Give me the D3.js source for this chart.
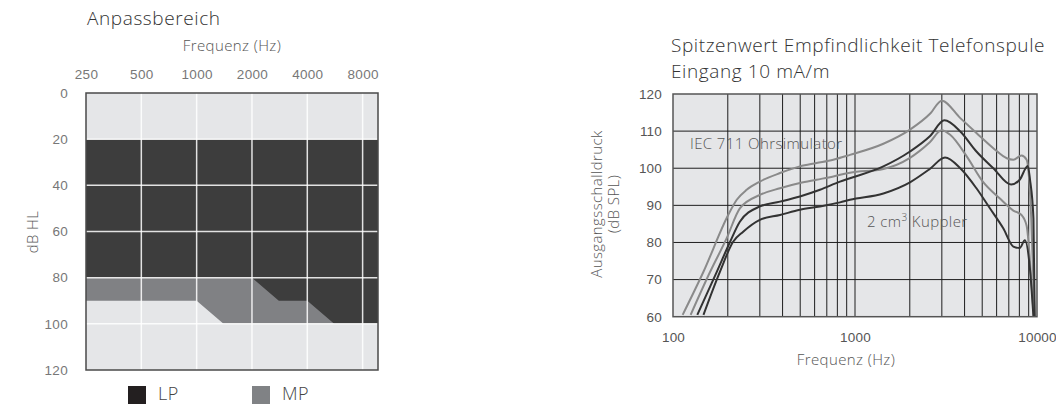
<!DOCTYPE html>
<html>
<head>
<meta charset="utf-8">
<script src="https://cdn.jsdelivr.net/npm/d3@7"></script>
<style>
  html, body { margin: 0; padding: 0; background: #fff; }
  svg { display: block; font-family: "Open Sans", "Lato", sans-serif; font-weight: 300; }
</style>
</head>
<body>
<svg id="chart" width="1056" height="405"></svg>
<script>
// ---- Anpassbereich (fitting range) ----
const fitTicksHz = [250, 500, 1000, 2000, 4000, 8000];
const fitTicksDb = [0, 20, 40, 60, 80, 100, 120];
const fitDomainHz = [250, 9700];
// LP range: from 20 dB HL down to this boundary
const lpTopDb = 20;
const lpEdgeHz = [250, 2000, 2800, 4000, 5600, 9700];
const lpEdgeDb = [80, 80, 90, 90, 100, 100];
// MP range: from 80 dB HL down to this boundary
const mpTopDb = 80;
const mpEdgeHz = [250, 1000, 1400, 9700];
const mpEdgeDb = [90, 90, 100, 100];
const legendLabels = ["LP", "MP"];

// ---- Telefonspule response ----
const respTicksHz = [100, 1000, 10000];
const respTicksDb = [60, 70, 80, 90, 100, 110, 120];
const respGridHz = [200, 300, 400, 500, 600, 700, 800, 900, 2000, 3000, 4000, 5000, 6000, 7000, 8000, 9000];

const greyUpperHz = [113, 147, 201, 224, 254, 300, 387, 498, 615, 760, 938, 1432, 2005, 2600, 2993, 3790, 4648, 5755, 6823, 7411, 8224, 8770, 9300, 9700];
const greyUpperDb = [60.5, 72.1, 87.4, 91.5, 94.2, 96.4, 98.7, 100.5, 101.4, 102.3, 103.6, 106.6, 110.4, 114.8, 118.2, 113.5, 109.5, 105.4, 102.7, 102.3, 103.4, 102.3, 86.5, 60];

const darkUpperHz = [136, 174, 206, 233, 300, 387, 498, 642, 827, 938, 1432, 2005, 2577, 3100, 3790, 4648, 5755, 7200, 8035, 8900, 9150, 9560, 9720];
const darkUpperDb = [60.5, 72.1, 80.2, 85.6, 89.7, 91, 92.4, 94.2, 96.4, 97.3, 100.5, 104.5, 108.6, 112.9, 109.9, 104.5, 100, 95.6, 96.9, 100.6, 97, 86.5, 60];

const greyLowerHz = [125, 160, 197, 233, 300, 387, 498, 615, 760, 938, 1432, 2005, 2577, 2993, 3333, 4110, 5040, 6232, 7411, 8224, 8770, 9300, 9600];
const greyLowerDb = [60.5, 72.1, 81.1, 89.2, 92.8, 94.6, 96, 96.9, 97.8, 98.8, 99.8, 102.8, 107, 110.2, 109, 103.2, 96.4, 91.9, 88.6, 87.4, 84.5, 70, 60];

const darkLowerHz = [147, 181, 214, 243, 300, 387, 498, 642, 827, 938, 1432, 2005, 2577, 3123, 3790, 4648, 5510, 6525, 7411, 8035, 8580, 9140, 9560];
const darkLowerDb = [60.5, 72.1, 80.2, 82.9, 86.1, 87.4, 88.8, 89.7, 90.8, 91.5, 93.2, 96.2, 99.8, 102.9, 100, 94.6, 89.2, 83.8, 78.9, 78.5, 80.6, 73, 60];

const svg = d3.select("#chart");
const zip = (xs, ys) => xs.map((x, i) => [x, ys[i]]);

// shared text styles
const titleStyle = s => s.attr("font-size", 19).attr("letter-spacing", 0.6).attr("fill", "#333");
const labelStyle = s => s.attr("font-size", 15).attr("letter-spacing", 0.4).attr("fill", "#555");

// =========== left chart ===========
{
  const L = 86, R = 378, T = 93, B = 370;
  const x = d3.scaleLog().base(2).domain(fitDomainHz).range([L, R]);
  const y = d3.scaleLinear().domain([0, 120]).range([T, B]);
  const g = svg.append("g");

  g.append("text").attr("x", 87).attr("y", 25).call(titleStyle).text("Anpassbereich");
  g.append("text").attr("x", 232).attr("y", 51).attr("text-anchor", "middle")
    .call(labelStyle).text("Frequenz (Hz)");

  g.append("rect").attr("x", L).attr("y", T).attr("width", R - L).attr("height", B - T)
    .attr("fill", "#e5e6e8");

  const mp = zip(mpEdgeHz, mpEdgeDb);
  const lp = zip(lpEdgeHz, lpEdgeDb);
  const area = d3.area().x(d => x(d[0])).y1(d => y(d[1]));
  g.append("path").datum(mp).attr("fill", "#808184")
    .attr("d", area.y0(y(mpTopDb)));
  g.append("path").datum(lp).attr("fill", "#3d3d3d")
    .attr("d", area.y0(y(lpTopDb)));

  // grid
  g.append("g").selectAll("line").data(fitTicksHz.slice(1)).join("line")
    .attr("x1", d => x(d)).attr("x2", d => x(d)).attr("y1", T).attr("y2", B)
    .attr("stroke", "#fff").attr("stroke-opacity", 0.85).attr("stroke-width", 1.5);
  g.append("g").selectAll("line").data(fitTicksDb.slice(1, -1)).join("line")
    .attr("x1", L).attr("x2", R).attr("y1", d => y(d)).attr("y2", d => y(d))
    .attr("stroke", "#fff").attr("stroke-opacity", 0.85).attr("stroke-width", 1.5);
  g.append("rect").attr("x", L).attr("y", T).attr("width", R - L).attr("height", B - T)
    .attr("fill", "none").attr("stroke", "#4a4a4a").attr("stroke-width", 1.5);

  // axes (labels only)
  const xAxis = g.append("g").attr("transform", `translate(0,${T - 14})`)
    .call(d3.axisTop(x).tickValues(fitTicksHz).tickFormat(d3.format("d")).tickSize(0).tickPadding(0));
  const yAxis = g.append("g").attr("transform", `translate(${L - 18},0)`)
    .call(d3.axisLeft(y).tickValues(fitTicksDb).tickSize(0).tickPadding(0));
  [xAxis, yAxis].forEach(a => {
    a.select(".domain").remove();
    a.selectAll("text").attr("font-family", null).attr("font-size", 13.5)
      .attr("letter-spacing", 0.3).attr("fill", "#777");
  });
  xAxis.selectAll("text").attr("dy", 0);

  g.append("text").attr("transform", "translate(33,232) rotate(-90)").attr("text-anchor", "middle")
    .attr("dy", "0.35em").call(labelStyle).text("dB HL");

  // legend
  const legendColors = ["#231f20", "#808285"];
  const lg = g.append("g").selectAll("g").data(legendLabels).join("g")
    .attr("transform", (d, i) => `translate(${128 + i * 124},386)`);
  lg.append("rect").attr("width", 18).attr("height", 18).attr("fill", (d, i) => legendColors[i]);
  lg.append("text").attr("x", 30).attr("y", 14).attr("font-size", 18).attr("letter-spacing", 0.5)
    .attr("fill", "#444").text(d => d);
}

// =========== right chart ===========
{
  const L = 673, R = 1037, T = 94, B = 316.7;
  const x = d3.scaleLog().domain([100, 10000]).range([L, R]);
  const y = d3.scaleLinear().domain([60, 120]).range([B, T]);
  const g = svg.append("g");

  g.append("text").attr("x", 671).attr("y", 52).call(titleStyle)
    .text("Spitzenwert Empfindlichkeit Telefonspule");
  g.append("text").attr("x", 671).attr("y", 78).call(titleStyle)
    .text("Eingang 10 mA/m");

  g.append("rect").attr("x", L).attr("y", T).attr("width", R - L).attr("height", B - T)
    .attr("fill", "#e5e6e8");

  g.append("g").selectAll("line").data(respGridHz.concat([1000])).join("line")
    .attr("x1", d => x(d)).attr("x2", d => x(d)).attr("y1", T).attr("y2", B)
    .attr("stroke", "#1e1e1e").attr("stroke-width", 1);
  g.append("g").selectAll("line").data(respTicksDb.slice(1, -1)).join("line")
    .attr("x1", L).attr("x2", R).attr("y1", d => y(d)).attr("y2", d => y(d))
    .attr("stroke", "#1e1e1e").attr("stroke-width", 1);

  g.append("clipPath").attr("id", "plotClip").append("rect")
    .attr("x", L).attr("y", T).attr("width", R - L).attr("height", B - T);

  const line = d3.line().x(d => x(d[0])).y(d => y(d[1])).curve(d3.curveMonotoneX);
  const curves = [
    { data: zip(greyUpperHz, greyUpperDb), color: "#8a8a8a" },
    { data: zip(greyLowerHz, greyLowerDb), color: "#8a8a8a" },
    { data: zip(darkUpperHz, darkUpperDb), color: "#333" },
    { data: zip(darkLowerHz, darkLowerDb), color: "#333" }
  ];
  g.append("g").attr("clip-path", "url(#plotClip)").selectAll("path").data(curves).join("path")
    .attr("d", d => line(d.data)).attr("fill", "none")
    .attr("stroke", d => d.color).attr("stroke-width", 2).attr("stroke-linejoin", "round");

  g.append("rect").attr("x", L).attr("y", T).attr("width", R - L).attr("height", B - T)
    .attr("fill", "none").attr("stroke", "#555").attr("stroke-width", 1.5);

  const xAxis = g.append("g").attr("transform", `translate(0,${B + 21})`)
    .call(d3.axisBottom(x).tickValues(respTicksHz).tickFormat(d3.format("d")).tickSize(0).tickPadding(0));
  const yAxis = g.append("g").attr("transform", `translate(${L - 11},0)`)
    .call(d3.axisLeft(y).tickValues(respTicksDb).tickSize(0).tickPadding(0));
  [xAxis, yAxis].forEach(a => {
    a.select(".domain").remove();
    a.selectAll("text").attr("font-family", null).attr("font-size", 13.5)
      .attr("letter-spacing", 0.2).attr("fill", "#555");
  });
  xAxis.selectAll("text").attr("dy", "0.35em");

  g.append("text").attr("x", 846).attr("y", 365).attr("text-anchor", "middle")
    .call(labelStyle).text("Frequenz (Hz)");

  const yl = g.append("text").attr("transform", "translate(602,204) rotate(-90)")
    .attr("text-anchor", "middle").call(labelStyle);
  yl.append("tspan").attr("x", 0).attr("dy", 0).text("Ausgangsschalldruck");
  yl.append("tspan").attr("x", 0).attr("dy", 17).text("(dB SPL)");

  g.append("text").attr("x", 690).attr("y", 149).call(labelStyle)
    .text("IEC 711 Ohrsimulator");
  const kt = g.append("text").attr("x", 867).attr("y", 227).call(labelStyle);
  kt.append("tspan").text("2 cm");
  kt.append("tspan").attr("dy", -6).attr("font-size", 10).text("3");
  kt.append("tspan").attr("dy", 6).text(" Kuppler");
}
</script>
</body>
</html>
